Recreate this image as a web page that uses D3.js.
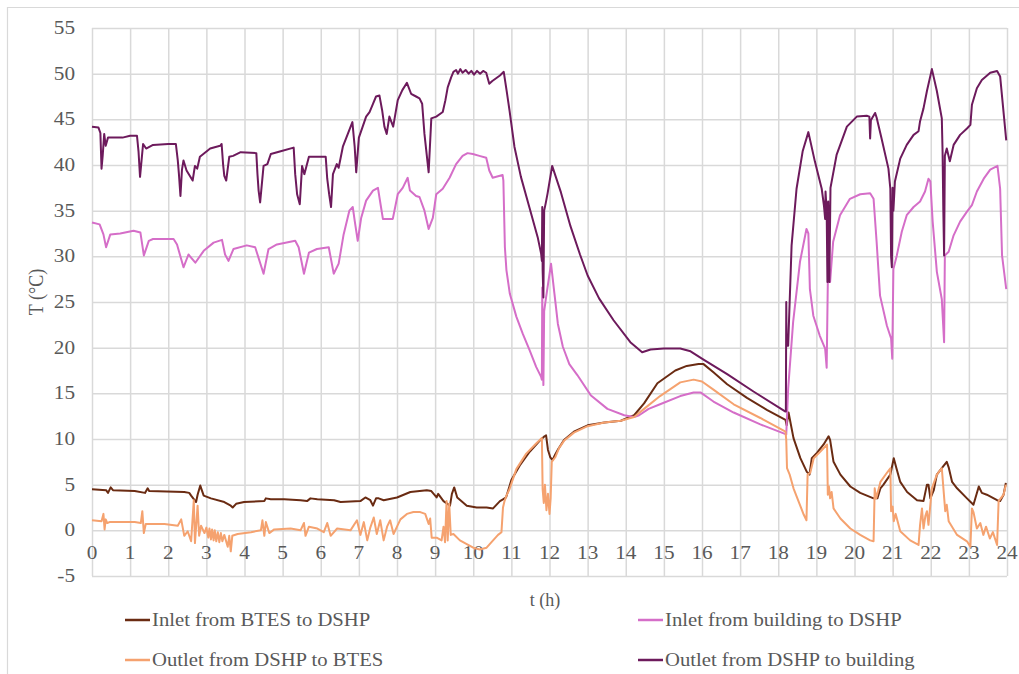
<!DOCTYPE html>
<html>
<head>
<meta charset="utf-8">
<script src="https://cdn.jsdelivr.net/npm/d3@7"></script>
<style>
  body { margin: 0; background: #ffffff; }
  svg { display: block; }
  text { font-family: "Liberation Serif", "Times New Roman", serif; fill: #595959; }
</style>
</head>
<body>
<svg id="chart" width="1019" height="674"></svg>
<script>
// Axis ticks
const hourTicks = d3.range(0, 25, 1);
const tempTicks = d3.range(-5, 56, 5);

// Series names, in legend order
const seriesNames = [
  "Inlet from BTES to DSHP",
  "Inlet from building to DSHP",
  "Outlet from DSHP to BTES",
  "Outlet from DSHP to building"
];
const seriesColors = ["#6a2b12", "#d56ec8", "#f5a26f", "#6d1a5c"];

// [time (h), temperature (°C)]
const inletBTES = [
  [0,4.5],[0.37,4.4],[0.42,4.1],[0.49,4.7],[0.55,4.4],[1.12,4.3],[1.39,4.1],[1.46,4.6],[1.5,4.3],
  [2.42,4.2],[2.55,4.1],[2.6,3.8],[2.73,3.1],[2.77,3.9],[2.84,4.9],[2.88,4.4],[2.93,3.8],[3.12,3.5],
  [3.47,3.1],[3.64,2.7],[3.69,2.5],[3.78,2.9],[3.99,3.1],[4.52,3.2],[4.56,3.5],[4.69,3.4],[5.04,3.4],
  [5.47,3.3],[5.64,3.2],[5.73,3.5],[5.91,3.4],[6.35,3.3],[6.52,3.1],[7.04,3.2],[7.17,3.6],[7.3,3.3],
  [7.37,2.7],[7.45,3.5],[7.52,3.5],[7.65,3.3],[8.0,3.6],[8.35,4.2],[8.78,4.4],[8.9,4.3],[9.04,3.6],
  [9.08,4.0],[9.22,3.2],[9.39,2.7],[9.44,4.0],[9.5,4.7],[9.58,3.6],[9.83,2.7],[10.09,2.5],[10.35,2.5],
  [10.52,2.4],[10.7,3.2],[10.78,3.4],[10.86,3.6],[11.0,5.5],[11.22,7.1],[11.48,8.6],[11.74,9.8],
  [11.87,10.3],[11.91,10.4],[11.96,8.8],[12.02,8.0],[12.08,7.7],[12.15,8.3],[12.23,8.9],[12.38,9.9],
  [12.64,10.8],[13.0,11.5],[13.44,11.8],[13.87,12.0],[14.22,12.6],[14.48,13.9],[14.83,16.1],[15.3,17.5],
  [15.6,18.0],[15.91,18.2],[16.04,18.2],[16.3,17.3],[16.66,16.0],[17.18,14.5],[17.7,13.2],[18.19,12.1],
  [18.22,11.5],[18.27,12.9],[18.4,10.1],[18.58,7.9],[18.75,6.4],[18.82,6.1],[18.88,7.9],[19.02,8.5],
  [19.19,9.4],[19.32,10.3],[19.36,9.9],[19.45,7.5],[19.63,6.1],[19.89,4.8],[20.15,4.1],[20.5,3.5],
  [20.6,3.5],[20.68,4.6],[20.76,5.0],[20.94,6.1],[21.03,7.9],[21.1,6.8],[21.2,5.3],[21.38,4.2],
  [21.64,3.3],[21.81,3.2],[21.9,5.0],[21.94,5.0],[21.99,3.5],[22.08,4.4],[22.16,6.1],[22.29,6.8],
  [22.42,7.5],[22.47,6.9],[22.56,5.3],[22.69,4.6],[22.95,3.5],[23.12,2.8],[23.26,4.8],[23.34,4.1],
  [23.47,3.9],[23.74,3.3],[23.82,3.2],[23.91,3.9],[23.97,5.2]
];

const inletBuilding = [
  [0,33.7],[0.2,33.5],[0.3,32.4],[0.37,31.0],[0.48,32.4],[0.74,32.5],[1.09,32.8],[1.27,32.6],[1.36,30.1],
  [1.49,31.7],[1.6,31.9],[2.14,31.9],[2.23,31.3],[2.4,28.8],[2.53,30.2],[2.71,29.3],[2.93,30.6],[3.19,31.5],
  [3.41,31.8],[3.49,30.2],[3.58,29.5],[3.71,30.8],[4.06,31.2],[4.28,31.0],[4.5,28.1],[4.63,30.8],[4.85,31.3],
  [5.33,31.7],[5.42,31.0],[5.56,28.1],[5.69,30.4],[5.9,30.8],[6.21,31.0],[6.34,28.1],[6.47,29.2],[6.6,32.4],
  [6.75,35.0],[6.84,35.4],[6.89,33.9],[6.97,31.7],[7.06,34.2],[7.19,36.1],[7.37,37.2],[7.5,37.5],[7.58,35.4],
  [7.63,34.1],[7.89,34.1],[8.02,36.8],[8.15,37.5],[8.28,38.6],[8.34,37.2],[8.5,36.6],[8.59,36.5],[8.72,35.0],
  [8.83,33.0],[8.94,34.2],[9.03,36.8],[9.2,37.4],[9.38,38.6],[9.55,40.1],[9.72,41.0],[9.85,41.3],[9.99,41.2],
  [10.16,41.0],[10.34,40.8],[10.42,39.4],[10.51,38.6],[10.77,38.9],[10.79,38.3],[10.83,31.0],[10.87,28.5],
  [10.96,25.9],[11.13,23.4],[11.3,21.5],[11.48,19.7],[11.65,17.9],[11.78,16.8],[11.8,16.5],[11.81,26.6],
  [11.82,20.0],[11.84,15.9],[11.86,24.0],[11.91,25.5],[12.04,29.2],[12.13,25.9],[12.22,22.6],[12.35,20.1],
  [12.52,18.2],[12.73,17.0],[13.08,14.8],[13.52,13.3],[13.96,12.6],[14.22,12.4],[14.35,12.6],[14.6,13.3],
  [14.9,13.8],[15.43,14.7],[15.78,15.1],[15.96,15.1],[16.3,14.1],[16.83,12.9],[17.53,11.6],[18.21,10.5],
  [18.26,15.5],[18.39,22.8],[18.57,29.4],[18.74,33.0],[18.79,32.5],[18.83,26.4],[18.92,23.5],[19.09,21.3],
  [19.23,19.9],[19.27,17.8],[19.3,27.2],[19.36,27.2],[19.44,31.6],[19.62,34.5],[19.88,36.3],[20.15,36.8],
  [20.41,36.9],[20.5,36.3],[20.58,31.6],[20.67,25.7],[20.85,22.4],[20.96,21.0],[20.99,18.8],[21.02,28.6],
  [21.11,30.1],[21.24,32.7],[21.37,34.5],[21.55,35.4],[21.72,36.0],[21.85,37.1],[21.94,38.5],[21.99,38.2],
  [22.05,33.8],[22.16,28.3],[22.29,25.3],[22.35,20.6],[22.37,30.1],[22.47,30.5],[22.6,32.3],[22.77,33.8],
  [22.95,34.9],[23.08,35.6],[23.21,37.1],[23.39,38.5],[23.56,39.5],[23.75,39.9],[23.82,37.4],[23.87,30.1],
  [23.98,26.4]
];

const outletBTES = [
  [0,1.1],[0.25,1.0],[0.3,1.8],[0.33,0.1],[0.36,1.2],[0.4,0.8],[0.46,0.9],[1.12,0.9],[1.28,0.8],[1.32,2.1],
  [1.36,-0.3],[1.41,0.7],[1.9,0.7],[2.25,0.5],[2.34,1.2],[2.42,-0.6],[2.51,-0.1],[2.6,-1.2],[2.67,3.3],
  [2.7,-1.4],[2.77,2.7],[2.81,-0.6],[2.86,0.5],[2.95,-0.3],[3.0,0.3],[3.05,-0.8],[3.08,0.2],[3.12,-1.0],
  [3.15,0.1],[3.19,-1.1],[3.22,0.0],[3.26,-1.2],[3.3,-0.2],[3.34,-1.3],[3.38,-0.3],[3.42,-1.2],[3.47,-0.5],
  [3.56,-1.8],[3.6,-0.6],[3.64,-2.3],[3.68,-0.6],[3.82,-0.4],[4.17,-0.2],[4.43,0.0],[4.47,1.1],[4.52,-0.6],
  [4.56,0.9],[4.65,-0.3],[4.78,0.1],[5.21,0.2],[5.47,0.0],[5.56,0.8],[5.6,-0.6],[5.69,0.4],[5.91,0.2],
  [6.08,-0.2],[6.17,0.8],[6.26,-0.6],[6.43,0.2],[6.78,0.0],[6.95,1.1],[7.04,-0.5],[7.13,0.9],[7.22,-1.1],
  [7.3,0.3],[7.39,1.4],[7.47,-0.4],[7.56,1.1],[7.65,-1.1],[7.74,0.4],[7.82,1.1],[7.91,-0.4],[8.0,0.4],
  [8.09,1.2],[8.26,1.8],[8.43,2.0],[8.61,2.0],[8.74,1.8],[8.83,0.7],[8.87,1.3],[8.91,-0.8],[9.04,-0.8],
  [9.17,-1.1],[9.22,0.4],[9.26,-1.3],[9.3,3.2],[9.33,-1.1],[9.37,2.9],[9.41,-0.5],[9.48,-0.4],[9.65,-1.1],
  [9.83,-1.5],[10.0,-1.9],[10.17,-2.1],[10.35,-1.9],[10.52,-1.1],[10.65,-0.5],[10.74,-0.2],[10.78,2.5],
  [10.82,3.2],[10.87,3.8],[10.95,4.5],[11.13,6.7],[11.39,8.4],[11.65,9.5],[11.8,10.1],[11.82,4.5],
  [11.85,3.0],[11.88,5.0],[11.92,2.2],[11.96,4.0],[12.0,1.8],[12.03,3.5],[12.06,7.5],[12.15,8.0],
  [12.25,9.0],[12.38,9.8],[12.64,10.7],[13.0,11.4],[13.44,11.8],[13.87,12.0],[14.22,12.4],[14.48,13.3],
  [14.9,14.7],[15.43,16.2],[15.78,16.5],[16.0,16.3],[16.3,15.4],[16.83,13.8],[17.53,12.3],[18.19,10.8],
  [18.21,9.9],[18.23,6.8],[18.3,6.1],[18.4,4.6],[18.53,3.2],[18.67,1.7],[18.74,1.1],[18.77,6.1],
  [18.84,6.3],[18.93,7.9],[19.1,8.6],[19.28,9.4],[19.3,3.9],[19.33,4.8],[19.36,3.5],[19.4,4.2],[19.45,2.4],
  [19.63,1.3],[19.89,0.2],[20.15,-0.5],[20.41,-1.1],[20.5,-1.2],[20.53,4.6],[20.57,3.5],[20.68,5.3],
  [20.85,6.3],[20.94,6.8],[20.96,2.1],[21.0,2.6],[21.03,1.0],[21.08,1.8],[21.2,-0.1],[21.46,-1.1],
  [21.68,-1.6],[21.72,0.6],[21.77,2.4],[21.81,0.2],[21.86,1.6],[21.9,2.1],[21.94,0.6],[22.03,4.6],
  [22.16,6.1],[22.29,6.8],[22.38,2.1],[22.42,2.8],[22.47,1.0],[22.69,-0.5],[22.95,-1.2],[23.04,-1.8],
  [23.08,2.4],[23.12,2.0],[23.21,0.2],[23.3,0.8],[23.38,-0.5],[23.45,0.4],[23.55,-0.9],[23.63,-0.2],
  [23.74,-1.6],[23.78,3.2],[23.91,3.9],[23.97,5.0]
];

const outletBuilding = [
  [0,44.2],[0.17,44.1],[0.22,43.5],[0.25,39.6],[0.28,41.0],[0.32,43.4],[0.36,42.1],[0.42,43.0],[0.8,43.0],
  [1.0,43.2],[1.18,43.2],[1.22,41.5],[1.26,38.7],[1.3,40.5],[1.34,42.3],[1.42,41.8],[1.6,42.2],[2.0,42.3],
  [2.2,42.3],[2.25,40.5],[2.28,39.0],[2.32,36.6],[2.36,39.5],[2.4,40.5],[2.48,39.4],[2.64,38.3],[2.7,39.9],
  [2.76,39.6],[2.83,40.9],[3.1,41.8],[3.36,42.1],[3.4,42.3],[3.44,40.0],[3.47,38.8],[3.52,38.3],[3.6,40.9],
  [3.7,41.0],[3.9,41.4],[4.31,41.3],[4.34,39.0],[4.37,37.2],[4.41,35.9],[4.5,39.9],[4.6,40.1],[4.69,41.2],
  [4.95,41.5],[5.29,41.9],[5.33,39.0],[5.38,36.8],[5.45,35.7],[5.51,39.9],[5.57,39.0],[5.69,40.9],[6.13,40.9],
  [6.17,38.5],[6.22,36.8],[6.27,35.4],[6.32,39.0],[6.42,40.1],[6.47,39.7],[6.58,42.0],[6.71,43.4],[6.83,44.7],
  [6.89,42.0],[6.93,39.2],[7.0,43.0],[7.1,44.2],[7.19,45.3],[7.28,45.8],[7.37,46.7],[7.45,47.5],[7.54,47.6],
  [7.61,46.0],[7.67,44.2],[7.73,43.4],[7.8,45.3],[7.9,44.2],[8.02,47.1],[8.14,48.2],[8.26,49.0],[8.37,47.8],
  [8.5,47.5],[8.59,47.3],[8.66,46.7],[8.72,43.4],[8.83,39.2],[8.9,45.1],[9.03,45.3],[9.2,45.8],[9.27,47.1],
  [9.33,48.5],[9.42,49.6],[9.48,50.2],[9.55,50.4],[9.6,50.0],[9.66,50.5],[9.72,50.1],[9.8,50.4],[9.88,50.0],
  [9.95,50.3],[10.02,49.9],[10.1,50.3],[10.18,50.0],[10.26,50.3],[10.34,50.1],[10.42,48.9],[10.5,49.2],
  [10.6,49.5],[10.7,49.8],[10.8,50.2],[10.88,48.0],[10.95,46.0],[11.08,42.0],[11.25,38.7],[11.47,35.4],
  [11.69,32.1],[11.78,30.3],[11.8,29.5],[11.81,35.4],[11.82,28.5],[11.84,25.5],[11.86,35.0],[11.9,35.8],
  [11.95,36.9],[12.07,39.9],[12.3,37.0],[12.55,33.3],[12.8,30.2],[13.0,27.9],[13.3,25.4],[13.68,23.0],
  [14.12,20.6],[14.43,19.5],[14.65,19.8],[15.0,19.9],[15.43,19.9],[15.7,19.6],[16.04,18.7],[16.66,17.1],
  [17.35,15.2],[18.19,13.0],[18.2,13.0],[18.21,25.0],[18.22,20.2],[18.26,20.2],[18.35,31.2],[18.48,37.4],
  [18.64,41.5],[18.79,43.6],[18.96,40.4],[19.14,37.4],[19.2,35.5],[19.23,34.1],[19.24,37.1],[19.27,35.0],
  [19.29,27.2],[19.31,36.0],[19.34,27.2],[19.37,37.5],[19.53,41.1],[19.8,44.2],[20.06,45.3],[20.32,45.4],
  [20.39,45.3],[20.41,42.9],[20.43,44.9],[20.54,45.7],[20.58,45.2],[20.71,42.9],[20.89,39.6],[20.94,37.4],
  [20.96,30.0],[20.98,28.8],[21.0,37.5],[21.02,35.0],[21.06,38.2],[21.2,40.7],[21.37,42.2],[21.55,43.3],
  [21.68,43.7],[21.72,44.8],[21.81,46.2],[21.9,48.1],[22.03,50.5],[22.16,48.1],[22.29,45.1],[22.31,41.5],
  [22.33,35.0],[22.35,30.1],[22.37,41.0],[22.42,41.8],[22.5,40.4],[22.6,42.2],[22.77,43.3],[22.95,44.0],
  [23.04,44.4],[23.08,46.6],[23.21,48.4],[23.34,49.3],[23.56,50.1],[23.74,50.3],[23.82,49.7],[23.98,42.7]
];

// Drawing order: later series sit on top
const drawOrder = [
  { data: inletBTES, idx: 0 },
  { data: inletBuilding, idx: 1 },
  { data: outletBTES, idx: 2 },
  { data: outletBuilding, idx: 3 }
];

const svg = d3.select("#chart");
const plot = { left: 92, right: 1007, top: 28, bottom: 576 };

const x = d3.scaleLinear().domain([0, 24]).range([plot.left, plot.right]);
const y = d3.scaleLinear().domain([-5, 55]).range([plot.bottom, plot.top]);

// Outer chart frame
svg.append("path")
  .attr("d", "M7.5,680 V7.5 H1030")
  .attr("fill", "none")
  .attr("stroke", "#d9d9d9")
  .attr("stroke-width", 1.2);

// Gridlines
const gridX = svg.append("g")
  .attr("transform", `translate(0,${plot.bottom})`)
  .call(d3.axisBottom(x).tickValues(hourTicks).tickSize(-(plot.bottom - plot.top)).tickFormat(""));
const gridY = svg.append("g")
  .attr("transform", `translate(${plot.left},0)`)
  .call(d3.axisLeft(y).tickValues(tempTicks).tickSize(-(plot.right - plot.left)).tickFormat(""));
[gridX, gridY].forEach(g => {
  g.select(".domain").remove();
  g.selectAll(".tick line").attr("stroke", "#d9d9d9").attr("stroke-width", 1.5);
});

// Text helper: serif text with optional horizontal widening
function label(parent, px, py, str, anchor, size, sx) {
  const g = parent.append("g").attr("transform", `translate(${px},${py}) scale(${sx},1)`);
  g.append("text")
    .attr("text-anchor", anchor)
    .attr("font-size", size)
    .text(str);
  return g;
}

// Y tick labels
const yLab = svg.append("g");
tempTicks.forEach(v => label(yLab, 75, y(v) + 6, String(v), "end", 18, 1.18));

// X tick labels (sit between the 0 and -5 gridlines)
const xLab = svg.append("g");
hourTicks.forEach(v => label(xLab, x(v), y(-2.5) + 6, String(v), "middle", 18, 1.18));

// Axis titles
label(svg, 545, 606, "t (h)", "middle", 18, 1);
svg.append("g")
  .attr("transform", "translate(43,292) rotate(-90) scale(1,1.15)")
  .append("text")
  .attr("text-anchor", "middle")
  .attr("font-size", 18)
  .text("T (°C)");

// Series lines
const line = d3.line().x(d => x(d[0])).y(d => y(d[1]));
const lines = svg.append("g").attr("fill", "none");
drawOrder.forEach(s => {
  lines.append("path")
    .datum(s.data)
    .attr("d", line)
    .attr("stroke", seriesColors[s.idx])
    .attr("stroke-width", 2)
    .attr("stroke-linejoin", "round");
});

// Legend
const legendPos = [
  { x: 125, y: 620 },
  { x: 638, y: 620 },
  { x: 125, y: 660 },
  { x: 638, y: 660 }
];
const legend = svg.append("g");
seriesNames.forEach((name, i) => {
  const p = legendPos[i];
  legend.append("line")
    .attr("x1", p.x).attr("x2", p.x + 25)
    .attr("y1", p.y).attr("y2", p.y)
    .attr("stroke", seriesColors[i])
    .attr("stroke-width", 2.5);
  label(legend, p.x + 27, p.y + 6, name, "start", 18, 1.15);
});
</script>
</body>
</html>
